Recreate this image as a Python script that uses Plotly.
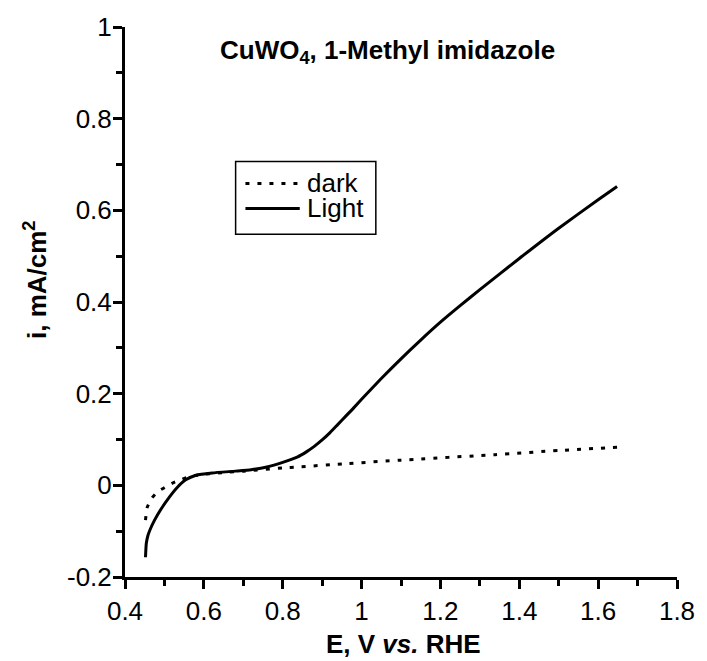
import plotly.graph_objects as go

# Potential (V vs. RHE) and current density (mA/cm^2) for the illuminated scan
light_E = [0.452, 0.454, 0.458, 0.463, 0.475, 0.492, 0.513, 0.533, 0.554, 0.580,
           0.621, 0.680, 0.720, 0.760, 0.800, 0.838, 0.860, 0.880, 0.900, 0.920,
           0.940, 0.960, 0.980, 1.000, 1.050, 1.100, 1.150, 1.200, 1.250, 1.300,
           1.400, 1.500, 1.600, 1.648]
light_i = [-0.157, -0.127, -0.110, -0.098, -0.076, -0.051, -0.025, -0.004, 0.012, 0.022,
           0.027, 0.031, 0.034, 0.040, 0.050, 0.062, 0.073, 0.085, 0.099, 0.115,
           0.133, 0.151, 0.169, 0.188, 0.233, 0.276, 0.317, 0.356, 0.392, 0.427,
           0.495, 0.561, 0.623, 0.652]

# Dark scan
dark_E = [0.452, 0.456, 0.467, 0.483, 0.502, 0.523, 0.544, 0.567, 0.600, 0.650,
          0.700, 0.800, 0.838, 0.955, 1.100, 1.339, 1.500, 1.648]
dark_i = [-0.076, -0.049, -0.029, -0.014, -0.004, 0.006, 0.013, 0.020, 0.024, 0.028,
          0.031, 0.038, 0.040, 0.047, 0.055, 0.067, 0.076, 0.083]

x_ticks = [0.4, 0.6, 0.8, 1.0, 1.2, 1.4, 1.6, 1.8]
x_tick_text = ["0.4", "0.6", "0.8", "1", "1.2", "1.4", "1.6", "1.8"]
x_minor = [0.5, 0.7, 0.9, 1.1, 1.3, 1.5, 1.7]
y_ticks = [-0.2, 0.0, 0.2, 0.4, 0.6, 0.8, 1.0]
y_tick_text = ["-0.2", "0", "0.2", "0.4", "0.6", "0.8", "1"]
y_minor = [-0.1, 0.1, 0.3, 0.5, 0.7, 0.9]

series_names = ["dark", "Light"]

FONT = "Liberation Sans, Arial, Helvetica, sans-serif"
DARK_DASH = "4px,8px"

fig = go.Figure()
fig.add_trace(go.Scatter(x=dark_E, y=dark_i, mode="lines", name=series_names[0],
                         line=dict(color="black", width=3, dash=DARK_DASH,
                                   shape="spline", smoothing=0.5)))
fig.add_trace(go.Scatter(x=light_E, y=light_i, mode="lines", name=series_names[1],
                         line=dict(color="black", width=3, shape="spline", smoothing=0.5)))

axis_common = dict(showline=True, linewidth=3, linecolor="black", showgrid=False,
                   zeroline=False, ticks="outside", ticklen=9, tickwidth=2.5,
                   tickcolor="black", tickmode="array",
                   tickfont=dict(family=FONT, size=26, color="black"))

fig.update_xaxes(range=[0.4, 1.8], tickvals=x_ticks, ticktext=x_tick_text,
                 minor=dict(tickmode="array", tickvals=x_minor, ticks="outside",
                            ticklen=6, tickwidth=2.5, tickcolor="black"),
                 **axis_common)
fig.update_yaxes(range=[-0.2, 1.0], tickvals=y_ticks, ticktext=y_tick_text,
                 ticklabelstandoff=-4,
                 minor=dict(tickmode="array", tickvals=y_minor, ticks="outside",
                            ticklen=6, tickwidth=2.5, tickcolor="black"),
                 **axis_common)

# Boxed key in the upper-left part of the plotting area
key_x0, key_x1, key_y0, key_y1 = 0.2004, 0.4544, 0.6232, 0.7554
key_rows = [0.7155, 0.6700]
sample_x0, sample_x1, label_x = 0.2182, 0.3166, 0.3256
shapes = [dict(type="rect", xref="paper", yref="paper", x0=key_x0, x1=key_x1,
               y0=key_y0, y1=key_y1, line=dict(color="black", width=1.5),
               fillcolor="white", layer="above")]
shapes.append(dict(type="line", xref="paper", yref="paper", x0=sample_x0, x1=sample_x1,
                   y0=key_rows[0], y1=key_rows[0],
                   line=dict(color="black", width=3, dash=DARK_DASH), layer="above"))
shapes.append(dict(type="line", xref="paper", yref="paper", x0=sample_x0, x1=sample_x1,
                   y0=key_rows[1], y1=key_rows[1],
                   line=dict(color="black", width=3), layer="above"))

annotations = [
    dict(text="<b>CuWO<sub>4</sub>, 1-Methyl imidazole</b>", xref="paper", yref="paper",
         x=0.476, y=0.955, xanchor="center", yanchor="middle", showarrow=False,
         font=dict(family=FONT, size=26, color="black")),
    dict(text="<b>E, V <i>vs.</i> RHE</b>", xref="paper", yref="paper",
         x=0.505, y=-0.121, xanchor="center", yanchor="middle", showarrow=False,
         font=dict(family=FONT, size=26, color="black")),
    dict(text="<b>i, mA/cm<sup>2</sup></b>", xref="paper", yref="paper",
         x=-0.163, y=0.54, xanchor="center", yanchor="middle", showarrow=False,
         textangle=-90, font=dict(family=FONT, size=26, color="black")),
]
for name, row in zip(series_names, key_rows):
    annotations.append(dict(text=name, xref="paper", yref="paper", x=label_x, y=row,
                            xanchor="left", yanchor="middle", showarrow=False,
                            font=dict(family=FONT, size=26, color="black")))

fig.update_layout(
    width=707, height=661, autosize=False,
    margin=dict(l=125, r=23, t=25, b=84),
    paper_bgcolor="white", plot_bgcolor="white",
    font=dict(family=FONT, color="black"),
    showlegend=False,
    shapes=shapes,
    annotations=annotations,
)

fig.write_html("out.html")
